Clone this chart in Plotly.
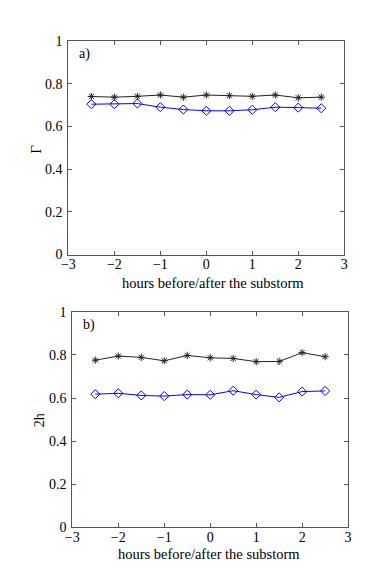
import plotly.graph_objects as go

# ---------------------------------------------------------
# DATA
# ---------------------------------------------------------

hours = [-2.5, -2.0, -1.5, -1.0, -0.5, 0.0, 0.5, 1.0, 1.5, 2.0, 2.5]

gamma_black = [0.741, 0.738, 0.742, 0.748, 0.738, 0.748, 0.745, 0.742, 0.748, 0.735, 0.738]
gamma_blue = [0.705, 0.705, 0.708, 0.691, 0.680, 0.674, 0.674, 0.679, 0.691, 0.689, 0.686]

h2_black = [0.776, 0.795, 0.789, 0.773, 0.798, 0.787, 0.784, 0.769, 0.770, 0.811, 0.792]
h2_blue = [0.618, 0.622, 0.612, 0.609, 0.616, 0.615, 0.634, 0.616, 0.603, 0.630, 0.633]

x_ticks = [-3, -2, -1, 0, 1, 2, 3]
y_ticks = [0, 0.2, 0.4, 0.6, 0.8, 1]

# ---------------------------------------------------------
# STYLE
# ---------------------------------------------------------

W, H = 382, 569
FONT = "Liberation Serif, Times New Roman, serif"
FRAME = "#555555"
BLACK = "#222222"
BLUE = "#0000FF"


def px_x(p):
    return p / W


def px_y(p):
    return 1 - p / H


fig = go.Figure()

panels = [
    ("x", "y", gamma_black, gamma_blue),
    ("x2", "y2", h2_black, h2_blue),
]

for xa, ya, black, blue in panels:

    fig.add_trace(
        go.Scatter(
            x=hours,
            y=black,
            xaxis=xa,
            yaxis=ya,
            mode="lines+markers",
            line=dict(color=BLACK, width=1),
            marker=dict(symbol="asterisk-open", size=6,
                        line=dict(color=BLACK, width=1)),
            showlegend=False,
        )
    )

    fig.add_trace(
        go.Scatter(
            x=hours,
            y=blue,
            xaxis=xa,
            yaxis=ya,
            mode="lines+markers",
            line=dict(color=BLUE, width=1),
            marker=dict(symbol="diamond-open", size=7,
                        line=dict(color=BLUE, width=1)),
            showlegend=False,
        )
    )

axis_common = dict(
    showline=True,
    mirror="ticks",
    linecolor=FRAME,
    linewidth=1,
    ticks="inside",
    ticklen=4,
    tickcolor=FRAME,
    showgrid=False,
    zeroline=False,
    tickfont=dict(family=FONT, size=14, color="black"),
)

fig.update_layout(
    width=W,
    height=H,
    margin=dict(l=0, r=0, t=0, b=0),
    paper_bgcolor="white",
    plot_bgcolor="white",
    font=dict(family=FONT, color="black"),

    xaxis=dict(axis_common, domain=[px_x(55), px_x(339)], range=[-3, 3],
               tickvals=x_ticks, anchor="y", ticklabelstandoff=-3),
    yaxis=dict(axis_common, domain=[px_y(246), px_y(27)], range=[0, 1],
               tickvals=y_ticks, anchor="x", ticklabelstandoff=2),

    xaxis2=dict(axis_common, domain=[px_x(59), px_x(343)], range=[-3, 3],
                tickvals=x_ticks, anchor="y2", ticklabelstandoff=-3),
    yaxis2=dict(axis_common, domain=[px_y(526), px_y(305)], range=[0, 1],
                tickvals=y_ticks, anchor="x2", ticklabelstandoff=2),
)

# axis titles placed in paper pixels
titles = [
    ("hours before/after the substorm", 204, 275, 0, 14.5),
    ("hours before/after the substorm", 200, 554, 0, 14.5),
    ("Γ", 22, 138, -90, 15),
    ("2h", 25, 416, -90, 14),
]
for text, tx, ty, ang, size in titles:
    fig.add_annotation(text=text, xref="paper", yref="paper",
                       x=px_x(tx), y=px_y(ty), xanchor="center", yanchor="middle",
                       textangle=ang, showarrow=False,
                       font=dict(family=FONT, size=size, color="black"))

fig.add_annotation(text="a)", xref="x domain", yref="y domain", x=0.03, y=0.985,
                   xanchor="left", yanchor="top", showarrow=False,
                   font=dict(family=FONT, size=14, color="black"))
fig.add_annotation(text="b)", xref="x2 domain", yref="y2 domain", x=0.03, y=0.985,
                   xanchor="left", yanchor="top", showarrow=False,
                   font=dict(family=FONT, size=14, color="black"))

fig.write_html("out.html")
